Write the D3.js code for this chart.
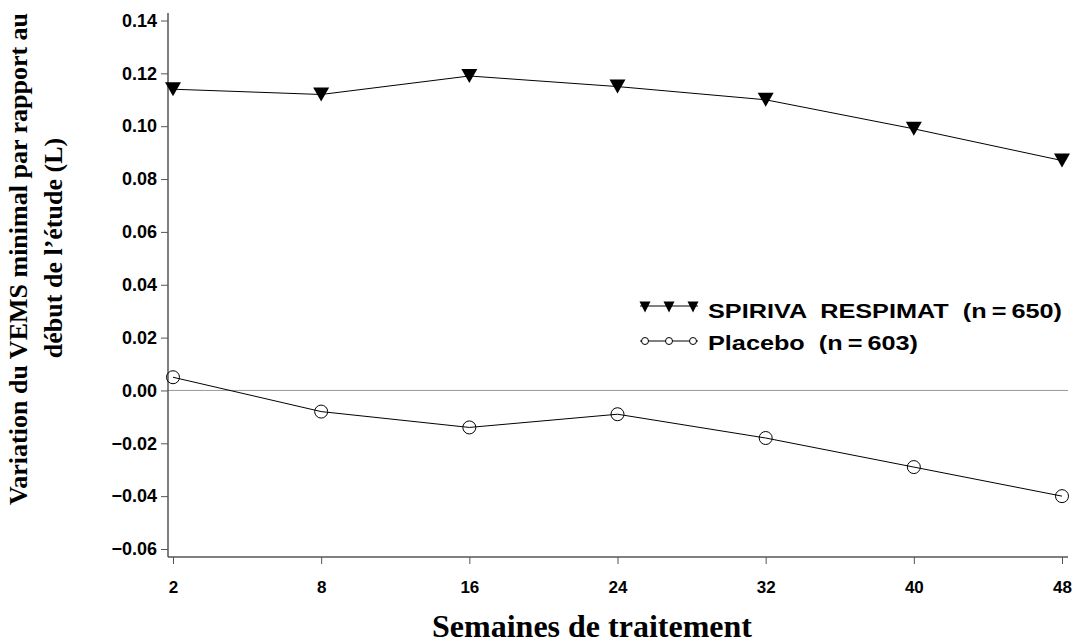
<!DOCTYPE html>
<html>
<head>
<meta charset="utf-8">
<script src="https://cdn.jsdelivr.net/npm/d3@7"></script>
<style>
  body { margin: 0; background: #fff; }
  svg { display: block; }
  .tick text { font-family: "Liberation Sans", Arial, sans-serif; font-weight: bold; fill: #000; }
  .title { font-family: "Liberation Serif", "Times New Roman", serif; font-weight: bold; fill: #000; }
  .legend text { font-family: "Liberation Sans", Arial, sans-serif; font-weight: bold; font-size: 21px; fill: #000; white-space: pre; }
</style>
</head>
<body>
<svg id="chart" width="1074" height="643"></svg>
<script>
var weeks = ["2", "8", "16", "24", "32", "40", "48"];
var spiriva = [0.114, 0.112, 0.119, 0.115, 0.110, 0.099, 0.087];
var placebo = [0.005, -0.008, -0.014, -0.009, -0.018, -0.029, -0.040];
var yTicks = [-0.06, -0.04, -0.02, 0.00, 0.02, 0.04, 0.06, 0.08, 0.10, 0.12, 0.14];
var seriesNames = ["SPIRIVA  RESPIMAT  (n\u2009=\u2009650)", "Placebo  (n\u2009=\u2009603)"];

var svg = d3.select("#chart");

var x = d3.scalePoint().domain(weeks).range([173, 1062]);
var y = d3.scaleLinear().domain([-0.06, 0.14]).range([549, 20.5]);

var axisColor = "#555";

// zero line
svg.append("line")
    .attr("x1", 168).attr("x2", 1068)
    .attr("y1", y(0)).attr("y2", y(0))
    .attr("stroke", "#999").attr("stroke-width", 1);

// y axis
var yAxis = svg.append("g")
    .attr("transform", "translate(168,0)")
    .call(d3.axisLeft(y).tickValues(yTicks).tickSize(7).tickPadding(4)
        .tickFormat(function(d) { return d3.format(".2f")(d).replace("-", "\u2212"); }));
yAxis.select(".domain").remove();
yAxis.selectAll(".tick line").attr("stroke", axisColor);
yAxis.selectAll(".tick text").style("font-size", "18px");
svg.append("line").attr("x1", 168).attr("x2", 168).attr("y1", 13).attr("y2", 557)
    .attr("stroke", axisColor).attr("stroke-width", 1.5);

// x axis
var xAxis = svg.append("g")
    .attr("transform", "translate(0,557)")
    .call(d3.axisBottom(x).tickSize(7).tickPadding(17));
xAxis.select(".domain").remove();
xAxis.selectAll(".tick line").attr("stroke", axisColor);
xAxis.selectAll(".tick text").style("font-size", "17px");
svg.append("line").attr("x1", 168).attr("x2", 1068).attr("y1", 557).attr("y2", 557)
    .attr("stroke", axisColor).attr("stroke-width", 1.5);

// lines
var line = d3.line()
    .x(function(d, i) { return x(weeks[i]); })
    .y(function(d) { return y(d); });

svg.append("path").datum(spiriva).attr("d", line)
    .attr("fill", "none").attr("stroke", "#000").attr("stroke-width", 1);
svg.append("path").datum(placebo).attr("d", line)
    .attr("fill", "none").attr("stroke", "#000").attr("stroke-width", 1);

function triangle(cx, cy, w, h) {
    return "M" + (cx - w / 2) + "," + (cy - h / 2) + "L" + (cx + w / 2) + "," + (cy - h / 2) + "L" + cx + "," + (cy + h / 2) + "Z";
}

svg.selectAll(".tri").data(spiriva).enter().append("path")
    .attr("class", "tri")
    .attr("d", function(d, i) { return triangle(x(weeks[i]), y(d), 16, 14); })
    .attr("fill", "#000");

svg.selectAll(".circ").data(placebo).enter().append("circle")
    .attr("class", "circ")
    .attr("cx", function(d, i) { return x(weeks[i]); })
    .attr("cy", function(d) { return y(d); })
    .attr("r", 6.5)
    .attr("fill", "none").attr("stroke", "#000").attr("stroke-width", 1);

// legend
var legend = svg.append("g").attr("class", "legend");
var lx = [645, 669, 693];
legend.append("line").attr("x1", 640).attr("x2", 698).attr("y1", 306).attr("y2", 306).attr("stroke", "#000");
lx.forEach(function(cx) {
    legend.append("path").attr("d", triangle(cx, 307, 11, 11)).attr("fill", "#000");
});
legend.append("line").attr("x1", 640).attr("x2", 698).attr("y1", 341).attr("y2", 341).attr("stroke", "#000");
lx.forEach(function(cx) {
    legend.append("circle").attr("cx", cx).attr("cy", 341).attr("r", 3.5)
        .attr("fill", "#fff").attr("stroke", "#000").attr("stroke-width", 1);
});
legend.append("text").attr("x", 708).attr("y", 318)
    .attr("textLength", 354).attr("lengthAdjust", "spacingAndGlyphs").text(seriesNames[0]);
legend.append("text").attr("x", 708).attr("y", 350)
    .attr("textLength", 210).attr("lengthAdjust", "spacingAndGlyphs").text(seriesNames[1]);

// axis titles
svg.append("text").attr("class", "title")
    .attr("x", 592).attr("y", 637)
    .attr("text-anchor", "middle")
    .style("font-size", "32px")
    .text("Semaines de traitement");

svg.append("text").attr("class", "title")
    .attr("transform", "translate(27,259) rotate(-90)")
    .attr("text-anchor", "middle")
    .style("font-size", "26px")
    .text("Variation du VEMS minimal par rapport au");
svg.append("text").attr("class", "title")
    .attr("transform", "translate(62,248) rotate(-90)")
    .attr("text-anchor", "middle")
    .style("font-size", "26px")
    .text("d\u00e9but de l\u2019\u00e9tude (L)");
</script>
</body>
</html>
